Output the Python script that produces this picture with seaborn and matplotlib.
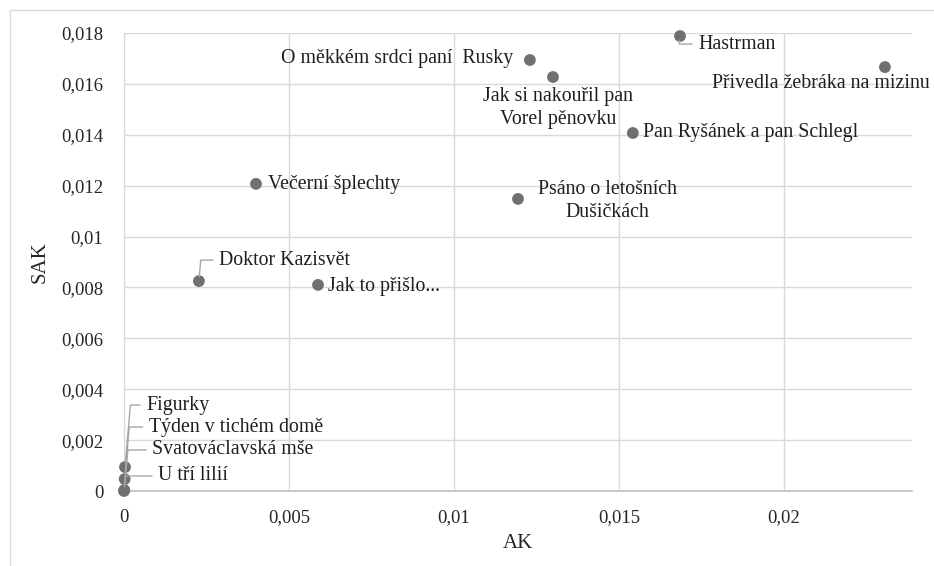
import matplotlib
matplotlib.use('Agg')
import matplotlib.pyplot as plt
import matplotlib.ticker as mticker
from matplotlib.patches import Rectangle
import pandas as pd
import seaborn as sns

# data
titles = ['Hastrman', 'Přivedla žebráka na mizinu', 'O měkkém srdci paní  Rusky',
          'Jak si nakouřil pan\nVorel pěnovku', 'Pan Ryšánek a pan Schlegl',
          'Psáno o letošních\nDušičkách', 'Večerní šplechty', 'Doktor Kazisvět',
          'Jak to přišlo...', 'Figurky', 'Týden v tichém domě',
          'Svatováclavská mše', 'U tří lilií']
ak = [0.01685, 0.02306, 0.0123, 0.0130, 0.01542, 0.01194, 0.0040, 0.00227,
      0.00588, 0.00003, 0.00002, 0.00001, 0.0]
sak = [0.01788, 0.01666, 0.01694, 0.01627, 0.01407, 0.01148, 0.01207, 0.00825,
       0.0081, 0.00094, 0.00047, 0.00004, 0.0]

# label placement: offset in pixels from point, alignment, leader line
label_pos = [(18, -8, 'left', True), (-173, -16, 'left', False), (-17, 1, 'right', False),
             (5, -31, 'center', False), (10, 0, 'left', False), (89, -2, 'center', False),
             (12, -1, 'left', False), (20, 21, 'left', True), (10, -2, 'left', False),
             (21, 62, 'left', True), (24, 52, 'left', True), (28, 40, 'left', True),
             (34, 15, 'left', True)]

df = pd.DataFrame({'AK': ak, 'SAK': sak, 'title': titles})

sns.set_style('white')
plt.rcParams['font.family'] = ['Liberation Serif', 'DejaVu Serif']

fig = plt.figure(figsize=(9.34, 5.66), dpi=100)
ax = fig.add_axes([124 / 934, 1 - 491 / 566, (912 - 124) / 934, (491 - 33) / 566])

# outer chart border
fig.patches.append(Rectangle((10 / 934, -0.5), 2, 1.5 - 10 / 566, transform=fig.transFigure,
                             fill=False, edgecolor='#d9d9d9', linewidth=1))

sns.scatterplot(data=df, x='AK', y='SAK', ax=ax, color='#707070', s=72,
                edgecolor='none', zorder=3, clip_on=False)

for (x, y, t), (dx, dy, ha, lead) in zip(zip(ak, sak, titles), label_pos):
    props = None
    if lead:
        props = dict(arrowstyle='-', color='#a6a6a6', lw=1, shrinkA=2, shrinkB=3,
                     connectionstyle='angle,angleA=180,angleB=85,rad=0')
    ax.annotate(t, (x, y), xytext=(dx, dy), textcoords='offset pixels',
                ha=ha, va='center', multialignment='center', fontsize=14.3,
                linespacing=1.3, color='#1f1f1f', arrowprops=props,
                annotation_clip=False, zorder=4)

ax.set_xlim(0, 0.02388)
ax.set_ylim(0, 0.018)
ax.xaxis.set_major_locator(mticker.MultipleLocator(0.005))
ax.yaxis.set_major_locator(mticker.MultipleLocator(0.002))
fmt = mticker.FuncFormatter(lambda v, p: '0' if abs(v) < 1e-12 else f'{v:g}'.replace('.', ','))
ax.xaxis.set_major_formatter(fmt)
ax.yaxis.set_major_formatter(fmt)
ax.tick_params(axis='both', length=0, labelsize=13.5, colors='#262626')
ax.tick_params(axis='x', pad=13)
ax.tick_params(axis='y', pad=15)
ax.grid(True, color='#d9d9d9', linewidth=1)
ax.set_axisbelow(True)
for side in ['top', 'right']:
    ax.spines[side].set_visible(False)
ax.spines['left'].set_color('#d9d9d9')
ax.spines['bottom'].set_color('#bfbfbf')
ax.spines['bottom'].set_linewidth(1.2)

ax.set_xlabel('AK', fontsize=15, color='#262626', labelpad=6)
ax.set_ylabel('SAK', fontsize=15, color='#262626', labelpad=8)

fig.savefig('out.png', dpi=100)
